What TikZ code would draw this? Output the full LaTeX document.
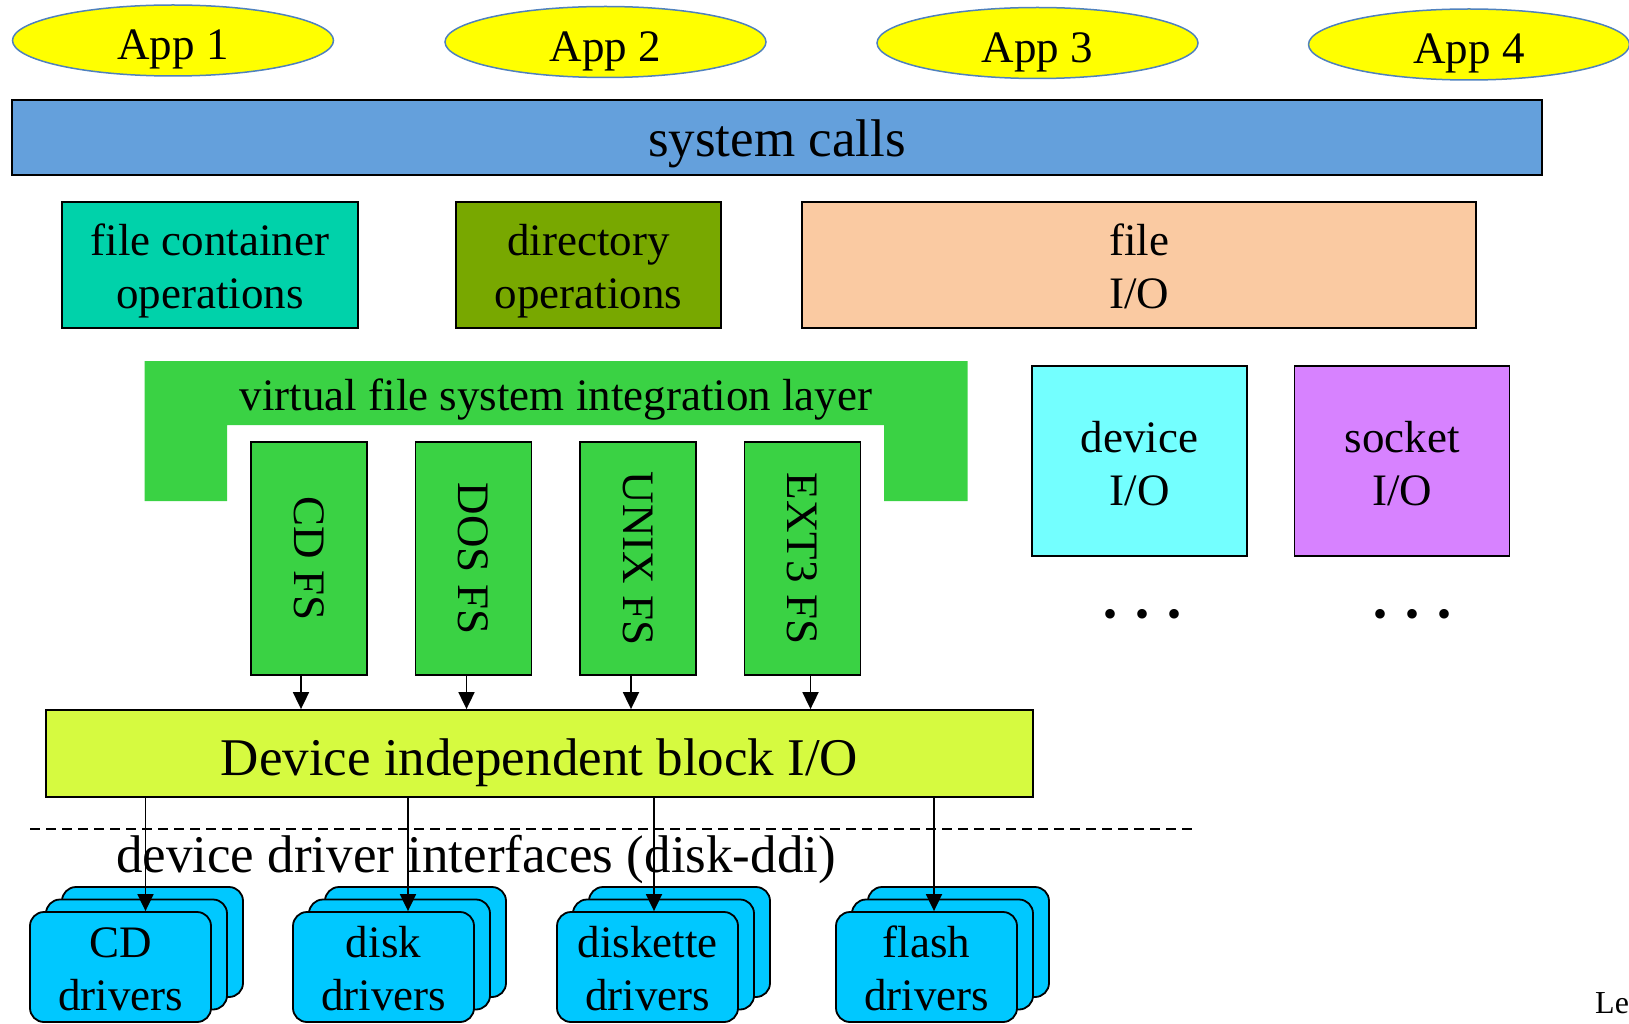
\documentclass[tikz,border=0pt]{standalone}
\usepackage{fontspec}
\usepackage{graphicx}
\setmainfont{Liberation Serif}
\usetikzlibrary{arrows.meta, shapes.geometric}

\definecolor{appfill}{RGB}{255,255,0}
\definecolor{appline}{RGB}{79,129,189}
\definecolor{sysblue}{RGB}{100,160,220}
\definecolor{fcoteal}{RGB}{0,210,170}
\definecolor{dirolive}{RGB}{120,168,0}
\definecolor{fiopeach}{RGB}{250,202,162}
\definecolor{vfsgreen}{RGB}{58,210,68}
\definecolor{dibyellow}{RGB}{214,250,64}
\definecolor{devcyan}{RGB}{115,255,255}
\definecolor{sockviolet}{RGB}{215,130,255}
\definecolor{drvblue}{RGB}{0,200,255}

\newcommand{\bigtxt}{\fontsize{45}{53}\selectfont}
\newcommand{\hugetxt}{\fontsize{53}{62}\selectfont}

\begin{document}
\begin{tikzpicture}[x = 1pt, y = -1pt,
  app/.style = {ellipse, draw = appline, fill = appfill, line width = 1.5pt, minimum width = 321pt, minimum height = 71pt, inner sep = 0, font = \bigtxt, text height = 39pt, text depth = 0pt},
  blk/.style = {rectangle, draw, line width = 1.8pt, inner sep = 0, align = center, font = \bigtxt},
  twoline/.style = {text height = #1, text depth = 0pt},
  fsbox/.style = {blk, fill = vfsgreen, minimum width = 116pt, minimum height = 233pt},
  drv/.style = {blk, fill = drvblue, rounded corners = 14pt, minimum width = 181pt, minimum height = 110pt, twoline = 86pt},
  arr/.style = {-{Triangle[length = 17pt, width = 16pt]}, line width = 1.8pt}]
\useasboundingbox (0,0) rectangle (1629,1024);
\node[app] (app1) at (173,40.5) {App 1};
\node[app] (app2) at (605.5,42) {App 2};
\node[app] (app3) at (1037.5,43) {App 3};
\node[app] (app4) at (1469,44.5) {App 4};
\node[blk, fill = sysblue, minimum width = 1530pt, minimum height = 75pt, font = \hugetxt, text height = 39pt, text depth = 0pt] (sys) at (777,137.5) {system calls};
\node[blk, twoline = 86pt, fill = fcoteal, minimum width = 296pt, minimum height = 126pt] (fco) at (210,265) {file container\\operations};
\node[blk, twoline = 86pt, fill = dirolive, minimum width = 265pt, minimum height = 126pt] (dirop) at (588.5,265) {directory\\operations};
\node[blk, twoline = 86pt, fill = fiopeach, minimum width = 674pt, minimum height = 126pt] (fio) at (1139,265) {file\\I/O};
\fill[vfsgreen] (144.5,361) -- (967.5,361) -- (967.5,501) -- (884,501) -- (884,425) -- (227,425) -- (227,501) -- (144.5,501) -- cycle;
\node[font = \bigtxt, text height = 35pt, text depth = 0pt, inner sep = 0] (vfs) at (556,393) {virtual file system integration layer};
\node[fsbox] (cdfs) at (309,558.5) {\rotatebox{-90}{CD FS}};
\node[fsbox] (dosfs) at (473.5,558.5) {\rotatebox{-90}{DOS FS}};
\node[fsbox] (unixfs) at (638,558.5) {\rotatebox{-90}{UNIX FS}};
\node[fsbox] (extfs) at (802.5,558.5) {\rotatebox{-90}{EXT3 FS}};
\node[blk, twoline = 88pt, fill = devcyan, minimum width = 215pt, minimum height = 190pt] (devio) at (1139.5,461) {device\\I/O};
\node[blk, twoline = 88pt, fill = sockviolet, minimum width = 215pt, minimum height = 190pt] (sockio) at (1402,461) {socket\\I/O};
\node[font = \fontsize{40}{40}\selectfont, inner sep = 0] (devmore) at (1142,618) {•\hspace{18pt}•\hspace{18pt}•};
\node[font = \fontsize{40}{40}\selectfont, inner sep = 0] (sockmore) at (1412,618) {•\hspace{18pt}•\hspace{18pt}•};
\node[blk, fill = dibyellow, minimum width = 987pt, minimum height = 87pt, font = \hugetxt, text height = 43pt, text depth = 0pt] (dib) at (539.5,753.5) {Device independent block I/O};
\foreach \n/\d in {cdfs/-8pt, dosfs/-7pt, unixfs/-7pt, extfs/8pt}
  \draw[arr] ([xshift = \d]\n.south) -- ([xshift = \d]\n.south |- dib.north);
\draw[line width = 1.5pt, dash pattern = on 10pt off 6pt] (30,829) -- (1197,829);
\node[font = \hugetxt, inner sep = 0, anchor = base west] (ddi) at (116,872) {device driver interfaces (disk-ddi)};
\foreach \n/\x/\lbl in {cd/120.5/CD, disk/383.5/disk, diskette/647.5/diskette, flash/926.5/flash} {
  \node[drv] (\n3) at (\x+32,942) {};
  \node[drv] (\n2) at (\x+16,954.5) {};
  \node[drv] (\n1) at (\x,967) {\lbl\\drivers};
}
\foreach \n/\d in {cd/25pt, disk/24.5pt, diskette/6.5pt, flash/7.5pt}
  \draw[arr] ([xshift = \d]\n1.north |- dib.south) -- ([xshift = \d]\n1.north);
\node[font = \fontsize{32}{38}\selectfont, inner sep = 0, anchor = base west] (le) at (1595,1013) {Le};
\end{tikzpicture}
\end{document}
